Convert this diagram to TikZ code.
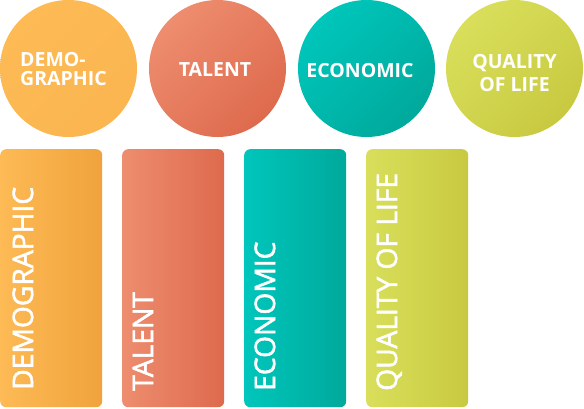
\documentclass[tikz,border=0pt]{standalone}
\usepackage{fontspec}
\setmainfont{Open Sans}
\newfontfamily\semib[FakeBold=2]{Open Sans}
\definecolor{demoL}{HTML}{FDBA55}
\definecolor{demoD}{HTML}{F0A33C}
\definecolor{talL}{HTML}{EE8D6F}
\definecolor{talD}{HTML}{DE6A4D}
\definecolor{ecoL}{HTML}{00C6BB}
\definecolor{ecoD}{HTML}{00A99B}
\definecolor{qolL}{HTML}{D9DF5B}
\definecolor{qolD}{HTML}{C8C940}
\tikzset{
  disc/.style 2 args={circle, minimum size=137pt, inner sep=0pt, draw=none,
    top color=#1, bottom color=#2, shading angle=45},
  bar/.style 2 args={rectangle, rounded corners=6pt, minimum width=102pt,
    minimum height=258pt, inner sep=0pt, anchor=north west, draw=none,
    left color=#1, right color=#2},
  disctext/.style={text=white, font=\bfseries\fontsize{19.5}{19.3}\selectfont, inner sep=0pt},
  bartext/.style={text=white, font=\semib\fontsize{28.2}{30}\selectfont, rotate=90,
    anchor=base west, inner sep=0pt},
}
\begin{document}
\begin{tikzpicture}[x=1pt,y=-1pt]
\useasboundingbox (0,0) rectangle (584,408);
% circles
\node[disc={demoL}{demoL!80!demoD}] (c1) at (68.5,68.5) {};
\node[disc={talL}{talD}] (c2) at (217.5,68.5) {};
\node[disc={ecoL}{ecoD}] (c3) at (366.5,68.5) {};
\node[disc={qolL}{qolD}] (c4) at (514.5,68.5) {};
\node[disctext, align=left, anchor=west] (t1) at (20,69) {DEMO-\\GRAPHIC};
\node[disctext] (t2) at (215,70) {TALENT};
\node[disctext] (t3) at (360,70.5) {ECONOMIC};
\node[disctext, align=center, font=\bfseries\fontsize{19.5}{23.5}\selectfont] (t4) at (514.5,73) {QUALITY\\OF LIFE};
% bars
\node[bar={demoL}{demoD}] (r1) at (0,149) {};
\node[bar={talL}{talD}] (r2) at (122,149) {};
\node[bar={ecoL}{ecoD}] (r3) at (244,149) {};
\node[bar={qolL}{qolD}] (r4) at (366,149) {};
\node[bartext] (b1) at (33,390) {DEMOGRAPHIC};
\node[bartext] (b2) at (153,391) {TALENT};
\node[bartext] (b3) at (275,391) {ECONOMIC};
\node[bartext] (b4) at (397,391) {QUALITY OF LIFE};
\end{tikzpicture}
\end{document}
